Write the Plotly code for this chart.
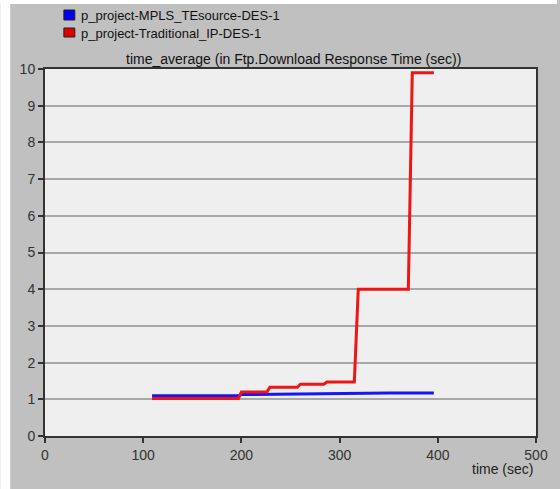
import plotly.graph_objects as go

# Data
blue_name = "p_project-MPLS_TEsource-DES-1"
red_name = "p_project-Traditional_IP-DES-1"
blue_x = [109, 150, 197, 200, 230, 260, 290, 320, 350, 380, 396]
blue_y = [1.10, 1.10, 1.10, 1.13, 1.14, 1.16, 1.17, 1.18, 1.17, 1.17, 1.17]
red_x = [109, 197, 200, 226, 229, 257, 260, 284, 287, 315, 319, 370, 374, 396]
red_y = [1.02, 1.02, 1.20, 1.20, 1.33, 1.33, 1.41, 1.41, 1.47, 1.47, 4.0, 4.0, 9.9, 9.9]
x_ticks = [0, 100, 200, 300, 400, 500]
y_ticks = list(range(0, 11))
title_text = "time_average (in Ftp.Download Response Time (sec))"
x_label = "time (sec)"

W, H = 560, 489
L, R, T, B = 45, 21, 69, 53
pw, ph = W - L - R, H - T - B

def px(x):
    return (x - L) / pw

def py(y):
    return (H - B - y) / ph

FONT = "Arial, Liberation Sans, sans-serif"

fig = go.Figure()
fig.add_trace(go.Scatter(x=blue_x, y=blue_y, mode="lines", name=blue_name,
                         line=dict(color="#1515F5", width=3)))
fig.add_trace(go.Scatter(x=red_x, y=red_y, mode="lines", name=red_name,
                         line=dict(color="#F01515", width=3)))

shapes = [
    dict(type="rect", xref="paper", yref="paper", x0=px(0), x1=px(10), y0=py(H), y1=py(0),
         fillcolor="white", line=dict(width=0), layer="below"),
    dict(type="rect", xref="paper", yref="paper", x0=px(0), x1=px(W), y0=py(4), y1=py(0),
         fillcolor="white", line=dict(width=0), layer="below"),
    dict(type="rect", xref="paper", yref="paper", x0=px(64), x1=px(75), y0=py(20), y1=py(10),
         fillcolor="#0000F0", line=dict(color="#202020", width=1)),
    dict(type="rect", xref="paper", yref="paper", x0=px(64), x1=px(75), y0=py(37), y1=py(28),
         fillcolor="#E00000", line=dict(color="#202020", width=1)),
]

annotations = [
    dict(text=blue_name, xref="paper", yref="paper", x=px(79), y=py(15), xanchor="left",
         yanchor="middle", showarrow=False, font=dict(family=FONT, size=13, color="#111")),
    dict(text=red_name, xref="paper", yref="paper", x=px(79), y=py(33), xanchor="left",
         yanchor="middle", showarrow=False, font=dict(family=FONT, size=13, color="#111")),
    dict(text=title_text, xref="paper", yref="paper", x=px(295), y=py(59), xanchor="center",
         yanchor="middle", showarrow=False, font=dict(family=FONT, size=14, color="#111")),
    dict(text=x_label, xref="paper", yref="paper", x=px(538), y=py(469), xanchor="right",
         yanchor="middle", showarrow=False, font=dict(family=FONT, size=14, color="#222")),
]

fig.update_layout(
    width=W, height=H,
    margin=dict(l=L, r=R, t=T, b=B),
    paper_bgcolor="#C0C0C0",
    plot_bgcolor="#EFEFEF",
    showlegend=False,
    shapes=shapes,
    annotations=annotations,
    font=dict(family=FONT, size=14, color="#333"),
)
fig.update_xaxes(range=[0, 500], tickvals=x_ticks, ticks="outside", ticklen=5, tickwidth=1.5,
                 tickcolor="#333", showgrid=False, showline=True, linecolor="#333", linewidth=2,
                 mirror=True, zeroline=False, tickfont=dict(size=14, color="#333"))
fig.update_yaxes(range=[0, 10], tickvals=y_ticks, ticks="outside", ticklen=5, tickwidth=1.5,
                 tickcolor="#333", showgrid=True, gridcolor="#A8A8A8", gridwidth=1.5,
                 showline=True, linecolor="#333", linewidth=2, mirror=True, zeroline=False,
                 tickfont=dict(size=14, color="#333"))

fig.write_html("out.html")
